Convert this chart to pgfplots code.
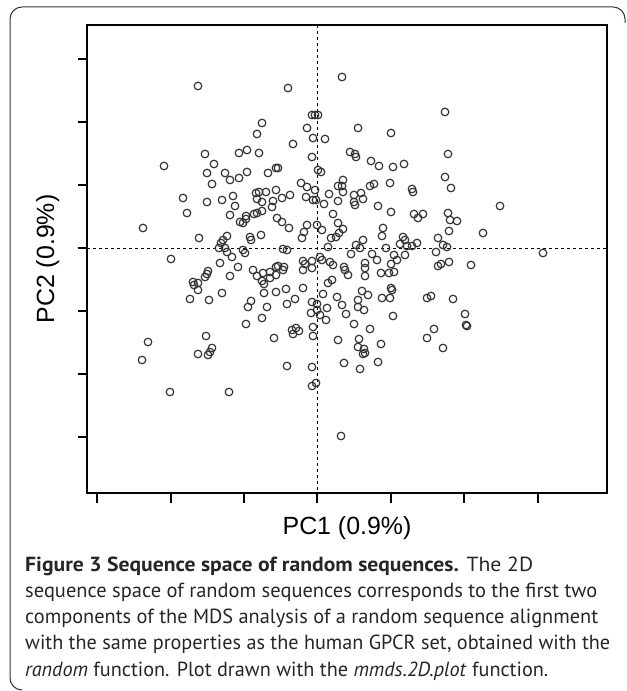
\documentclass[border=0pt]{standalone}
\usepackage{pgfplots}
\pgfplotsset{compat=1.18}
\usepackage{graphicx}
\usepackage{fontspec}
\setmainfont{PT Sans}
\newfontfamily\arialfont{Liberation Sans}
\newcommand\capline[2]{\resizebox{#1bp}{\height}{#2}}
\begin{document}
\begin{tikzpicture}[x=1bp,y=1bp]
\path[use as bounding box] (0,0) rectangle (627,691);
% outer frame
\draw[black!80, line width=1bp] (22,1) arc[start angle=270, end angle=180, radius=12] -- (10,672) arc[start angle=180, end angle=90, radius=12] -- (613,684) arc[start angle=90, end angle=0, radius=12] -- (625,668);
\begin{axis}[
  at={(87bp,198bp)}, anchor=south west,
  width=520bp, height=468bp, scale only axis,
  xmin=87, xmax=607, ymin=25, ymax=493, y dir=reverse,
  xtick={97,171,244,317,391,464,538},
  ytick={59,122,185,248,311,374,437},
  xticklabels={}, yticklabels={},
  tick align=outside, tick pos=left,
  major tick length=9.5bp,
  every tick/.style={black, line width=1.5bp},
  axis line style={black, line width=1.8bp},
  clip=false,
]
\addplot[black, line width=0.9bp, dash pattern=on 3bp off 3bp] coordinates {(317,25) (317,493)};
\addplot[black, line width=0.9bp, dash pattern=on 3bp off 3bp] coordinates {(87,248) (607,248)};
\addplot[only marks, mark=o, mark size=3.8bp, mark options={black!80, line width=1.2bp}] table {
x y
198 86
288 88
312 115
315 115
318 115
262 123
257 134
307 128
293 144
313 138
164 166
205 154
239 153
247 150
259 153
214 164
312 157
207 173
212 184
225 173
230 180
239 178
247 172
268 173
276 168
278 168
318 170
321 172
301 183
307 187
315 190
183 198
187 213
207 202
222 200
233 196
235 206
230 215
256 193
259 192
266 192
257 199
262 202
276 190
273 201
282 198
290 195
306 197
313 200
316 200
272 207
262 211
257 213
254 214
246 216
246 219
240 222
243 223
277 218
282 222
289 228
143 228
199 238
221 243
223 240
227 236
219 248
225 248
227 252
250 237
251 240
261 235
302 238
304 232
307 225
317 225
283 249
287 250
171 259
243 250
245 253
232 257
220 263
238 267
230 276
253 270
257 276
263 273
262 281
264 284
270 272
270 278
276 267
278 266
276 275
283 270
284 267
303 261
305 264
312 261
303 270
312 268
208 271
207 274
205 277
193 282
194 285
198 283
198 290
190 299
209 300
222 293
264 293
276 292
286 289
295 299
287 304
303 288
251 301
248 307
267 307
262 318
246 324
312 302
311 313
317 310
317 304
274 338
292 330
296 328
299 331
293 334
313 327
313 336
206 336
198 354
208 355
210 352
212 348
287 366
312 367
148 342
142 360
170 392
229 392
312 386
316 383
342 77
445 112
325 139
358 128
391 133
350 152
355 154
356 157
448 154
371 161
379 166
393 167
404 164
445 177
451 188
343 180
338 186
342 186
343 192
370 186
374 184
390 183
412 189
413 192
329 194
338 201
324 204
354 195
361 193
363 199
354 202
355 205
378 206
391 212
414 214
418 218
423 214
500 206
448 213
450 220
457 221
449 231
483 233
333 214
338 223
343 229
322 230
383 228
382 236
336 237
331 238
339 233
328 247
363 240
356 245
360 248
403 237
405 240
400 244
407 246
412 246
417 243
438 238
443 245
447 247
436 252
543 253
351 254
320 257
322 260
330 262
333 265
344 267
345 270
348 275
365 263
365 268
365 276
372 254
377 260
386 248
394 255
397 260
405 255
391 264
394 272
389 273
381 273
438 266
441 264
449 262
471 265
332 280
328 283
323 294
320 315
327 308
326 320
337 297
342 305
346 314
354 324
370 329
362 291
368 295
358 300
358 307
364 310
382 298
390 298
391 288
392 290
393 316
427 298
431 296
453 299
465 314
466 325
467 326
434 329
427 338
443 348
338 340
359 339
358 347
364 349
365 353
363 354
381 344
378 362
344 363
360 369
341 436
};
\end{axis}
% axis labels
\node[font=\arialfont\fontsize{25}{30}\selectfont, anchor=base] at (347,156) {PC1 (0.9\%)};
\node[font=\arialfont\fontsize{25}{30}\selectfont, anchor=base, rotate=90] at (54,432) {PC2 (0.9\%)};
% caption
\begin{scope}[every node/.style={anchor=base west, inner sep=0pt, font=\fontsize{20.5}{26}\selectfont, black!85}]
\node at (25,119) {\capline{508}{\textbf{Figure 3 Sequence space of random sequences.} The 2D}};
\node at (25,93) {\capline{572}{sequence space of random sequences corresponds to the first two}};
\node at (25,67) {\capline{573}{components of the MDS analysis of a random sequence alignment}};
\node at (25,41) {\capline{585}{with the same properties as the human GPCR set, obtained with the}};
\node at (25,15) {\capline{523}{\textit{random} function. Plot drawn with the \textit{mmds.2D.plot} function.}};
\end{scope}
\end{tikzpicture}
\end{document}
